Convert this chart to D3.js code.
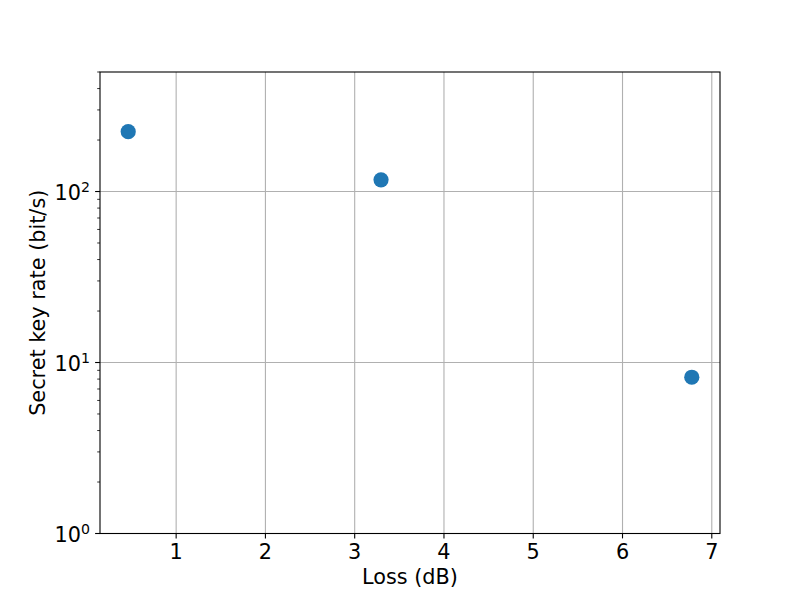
<!DOCTYPE html>
<html><head><meta charset="utf-8">
<script src="https://cdn.jsdelivr.net/npm/d3@7/dist/d3.min.js"></script>
<style>body{margin:0;background:#fff;} text{font-family:"DejaVu Sans",sans-serif;}</style>
</head><body>
<svg id="c" width="800" height="600"></svg>
<script>
const lossDb = [0.463, 3.295, 6.776];
const keyRate = [224, 117, 8.2];
const xTicks = [1, 2, 3, 4, 5, 6, 7];
const yMajorExp = [0, 1, 2];
const xLabel = "Loss (dB)";
const yLabel = "Secret key rate (bit/s)";

const svg = d3.select("#c");
const L = 100, R = 720, T = 72, B = 533.5;
const x = d3.scaleLinear().domain([0.147, 7.092]).range([L, R]);
const y = d3.scaleLog().domain([1, 500]).range([B, T]);
const fs = 20.8;

// minor ticks
const minor = [];
for (let e = 0; e < 3; e++) for (let m = 2; m <= 9; m++) { const v = m * Math.pow(10, e); if (v <= 500) minor.push(v); }

// grid
const g = svg.append("g");
xTicks.forEach(t => g.append("line").attr("x1", x(t)).attr("x2", x(t)).attr("y1", T).attr("y2", B)
  .attr("stroke", "#b0b0b0").attr("stroke-width", 1.1));
yMajorExp.forEach(e => g.append("line").attr("x1", L).attr("x2", R).attr("y1", y(Math.pow(10, e))).attr("y2", y(Math.pow(10, e)))
  .attr("stroke", "#b0b0b0").attr("stroke-width", 1.1));

// points
svg.append("g").selectAll("circle").data(lossDb.map((d, i) => [d, keyRate[i]])).join("circle")
  .attr("cx", d => x(d[0])).attr("cy", d => y(d[1])).attr("r", 7.6).attr("fill", "#1f77b4");

// spines
svg.append("rect").attr("x", L).attr("y", T).attr("width", R - L).attr("height", B - T)
  .attr("fill", "none").attr("stroke", "#000").attr("stroke-width", 1.1);

// x ticks
const xt = svg.append("g");
xTicks.forEach(t => {
  xt.append("line").attr("x1", x(t)).attr("x2", x(t)).attr("y1", B).attr("y2", B + 4.9).attr("stroke", "#000").attr("stroke-width", 1.1);
  xt.append("text").attr("x", x(t)).attr("y", B + 25.8).attr("text-anchor", "middle").attr("font-size", fs).text(t);
});

// y ticks
const yt = svg.append("g");
yMajorExp.forEach(e => {
  const py = y(Math.pow(10, e));
  yt.append("line").attr("x1", L - 4.9).attr("x2", L).attr("y1", py).attr("y2", py).attr("stroke", "#000").attr("stroke-width", 1.1);
  const tx = yt.append("text").attr("x", L - 10).attr("y", py + 8).attr("text-anchor", "end").attr("font-size", fs);
  tx.append("tspan").text("10");
  tx.append("tspan").attr("font-size", fs * 0.68).attr("dy", -7.5).text(e);
});
minor.forEach(v => {
  const py = y(v);
  yt.append("line").attr("x1", L - 2.8).attr("x2", L).attr("y1", py).attr("y2", py).attr("stroke", "#000").attr("stroke-width", 0.8);
});

// labels
svg.append("text").attr("x", (L + R) / 2).attr("y", 584.3).attr("text-anchor", "middle").attr("font-size", fs).text(xLabel);
svg.append("text").attr("transform", `translate(44.5,${(T + B) / 2}) rotate(-90)`).attr("text-anchor", "middle").attr("font-size", fs).text(yLabel);
</script>
</body></html>
